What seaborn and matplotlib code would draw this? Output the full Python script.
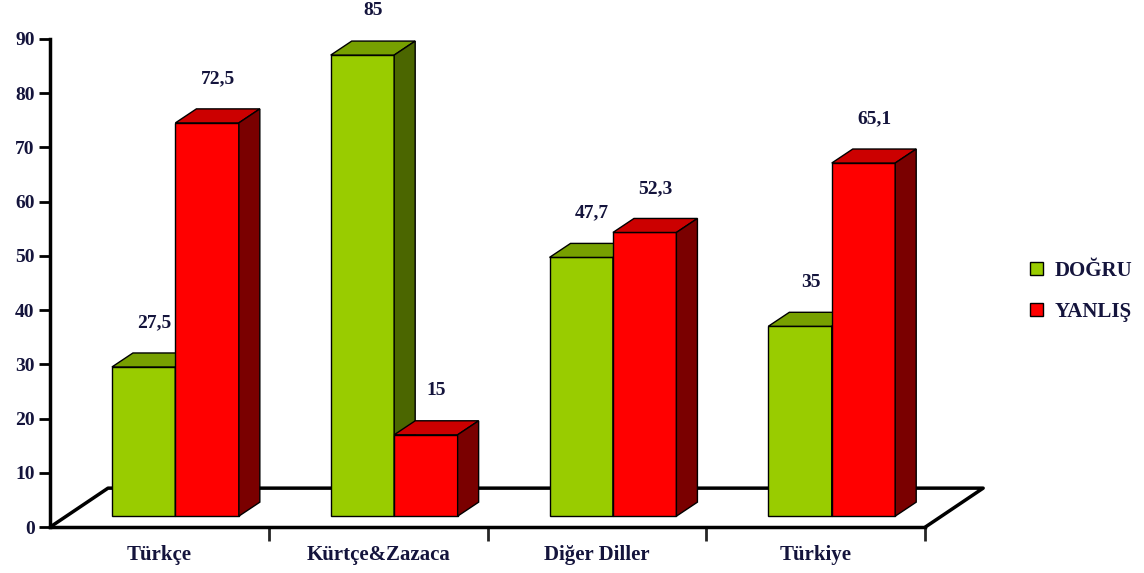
import pandas as pd
import matplotlib.pyplot as plt
import seaborn as sns
from matplotlib.patches import Polygon, Patch

# Veriler
kategoriler = ['Türkçe', 'Kürtçe&Zazaca', 'Diğer Diller', 'Türkiye']
dogru = [27.5, 85, 47.7, 35]
yanlis = [72.5, 15, 52.3, 65.1]
seriler = ['DOĞRU', 'YANLIŞ']

df = pd.DataFrame({
    'Dil': kategoriler * 2,
    'Cevap': [seriler[0]] * 4 + [seriler[1]] * 4,
    'Oran': dogru + yanlis,
})

sns.set_style('white')
plt.rcParams['font.family'] = ['Liberation Serif', 'DejaVu Serif']
metin_renk = '#14143c'

# renkler: ön, üst, yan yüz
renkler = {
    'DOĞRU': ('#99cc00', '#77a000', '#4b6600'),
    'YANLIŞ': ('#ff0000', '#cc0000', '#7a0000'),
}

fig = plt.figure(figsize=(11.44, 5.73), dpi=100)
ax = fig.add_axes([0.0437, 0.080, 0.765, 0.852])

sns.barplot(data=df, x='Dil', y='Oran', hue='Cevap', order=kategoriler, hue_order=seriler,
            palette=[renkler[s][0] for s in seriler], width=0.58, edgecolor='black',
            linewidth=1, legend=False, saturation=1, ax=ax)
ax.set_xlim(-0.5, 3.5)
ax.set_ylim(0, 90)

# piksel -> veri dönüşümü (1 kategori ~219 px, 1 birim ~5.42 px)
px_x = 1 / 218.75
px_y = 90 / 488
ox, oy = 16 * px_x, 11 * px_y      # çubukların zemindeki konumu
sx, sy = 21 * px_x, 14 * px_y      # çubuk derinliği
fx, fy = 58 * px_x, 39 * px_y      # zemin derinliği

# zemin
ax.plot([-0.5, -0.5 + fx, 3.5 + fx, 3.5], [0, fy, fy, 0], color='black', lw=2.5,
        clip_on=False, zorder=1, solid_capstyle='butt')

for i, p in enumerate(ax.patches):
    seri = seriler[i // 4]
    on, ust, yan = renkler[seri]
    z = 2 + i // 4
    p.set_x(p.get_x() + ox)
    p.set_y(oy)
    p.set_zorder(z)
    x0, x1 = p.get_x(), p.get_x() + p.get_width()
    y0, y1 = p.get_y(), p.get_y() + p.get_height()
    ax.add_patch(Polygon([(x0, y1), (x0 + sx, y1 + sy), (x1 + sx, y1 + sy), (x1, y1)],
                         facecolor=ust, edgecolor='black', lw=1, zorder=z, clip_on=False))
    ax.add_patch(Polygon([(x1, y0), (x1 + sx, y0 + sy), (x1 + sx, y1 + sy), (x1, y1)],
                         facecolor=yan, edgecolor='black', lw=1, zorder=z, clip_on=False))
    deger = p.get_height()
    ax.text((x0 + x1) / 2 + sx / 2, y1 + sy + 4, f'{deger:g}'.replace('.', ','),
            ha='center', va='bottom', fontsize=14, fontweight='bold', color=metin_renk,
            clip_on=False)

# eksenler
sns.despine(ax=ax, top=True, right=True)
for s in ['left', 'bottom']:
    ax.spines[s].set_linewidth(2.5)
    ax.spines[s].set_color('black')
ax.set_yticks(range(0, 100, 10))
ax.tick_params(axis='y', direction='out', length=8, width=2, left=True, colors='black',
               labelsize=14, labelcolor=metin_renk, pad=3)
for t in ax.get_yticklabels():
    t.set_fontweight('bold')

ax.set_xticks([0.5, 1.5, 2.5, 3.5])
ax.set_xticklabels([])
ax.set_xticks(range(4), minor=True)
ax.set_xticklabels(kategoriler, minor=True, fontsize=15, fontweight='bold', color=metin_renk)
ax.tick_params(axis='x', which='major', direction='out', length=10, width=2, bottom=True)
ax.tick_params(axis='x', which='minor', length=0, pad=13)
ax.set_xlabel('')
ax.set_ylabel('')

# lejant
tutamaclar = [Patch(facecolor=renkler[s][0], edgecolor='black', label=s) for s in seriler]
fig.legend(handles=tutamaclar, loc='center left', bbox_to_anchor=(0.884, 0.492), frameon=False,
           prop={'weight': 'bold', 'size': 15}, labelcolor=metin_renk, handlelength=0.6,
           handleheight=0.6, handletextpad=0.6, labelspacing=1.0)

plt.savefig('out.png', dpi=100)
